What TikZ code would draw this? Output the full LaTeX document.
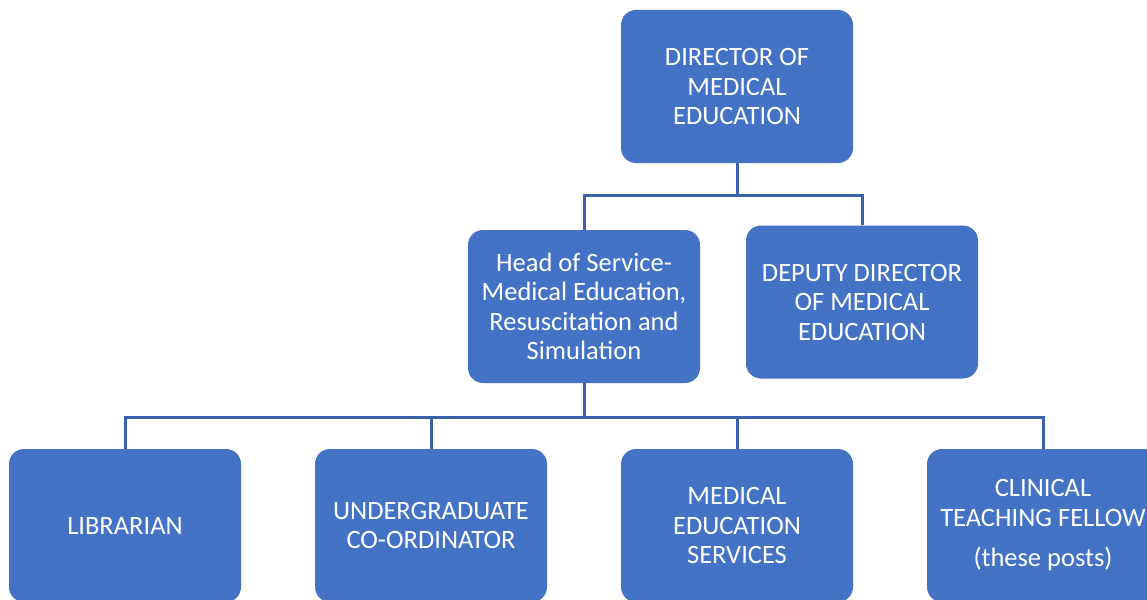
\documentclass[tikz,border=0pt]{standalone}
\usepackage{fontspec}
\setmainfont{Carlito}
\definecolor{boxblue}{HTML}{4472C4}
\definecolor{linkblue}{HTML}{3A62AA}
\begin{document}
\begin{tikzpicture}[x=1pt,y=-1pt,
  orgbox/.style={draw=none,fill=boxblue,rounded corners=15pt,minimum width=232pt,minimum height=153pt,
    text=white,align=center,inner sep=0pt,font=\fontsize{26.5}{29.5}\selectfont},
  link/.style={draw=linkblue,line width=3pt}]
\useasboundingbox (0,0) rectangle (1147,599);
\node[orgbox] (dir) at (737,86.5) {DIRECTOR OF\\MEDICAL\\EDUCATION};
\node[orgbox] (head) at (584,306.5) {Head of Service-\\Medical Education,\\Resuscitation and\\Simulation};
\node[orgbox] (dep) at (862,302) {DEPUTY DIRECTOR\\OF MEDICAL\\EDUCATION};
\node[orgbox] (lib) at (125,525.5) {LIBRARIAN};
\node[orgbox] (ug) at (431,525.5) {UNDERGRADUATE\\CO-ORDINATOR};
\node[orgbox] (mes) at (737,525.5) {MEDICAL\\EDUCATION\\SERVICES};
\node[orgbox] (ctf) at (1043,525.5) {CLINICAL\\TEACHING FELLOW\\[11pt](these posts)};
\coordinate (j1) at (737,195);
\coordinate (j2) at (584,417);
\draw[link] (dir.south) -- (j1);
\draw[link] (j1) -| (head.north);
\draw[link] (j1) -| (dep.north);
\draw[link] (head.south) -- (j2);
\draw[link] (j2) -| (lib.north);
\draw[link] (j2) -| (ug.north);
\draw[link] (j2) -| (mes.north);
\draw[link] (j2) -| (ctf.north);
\end{tikzpicture}
\end{document}
